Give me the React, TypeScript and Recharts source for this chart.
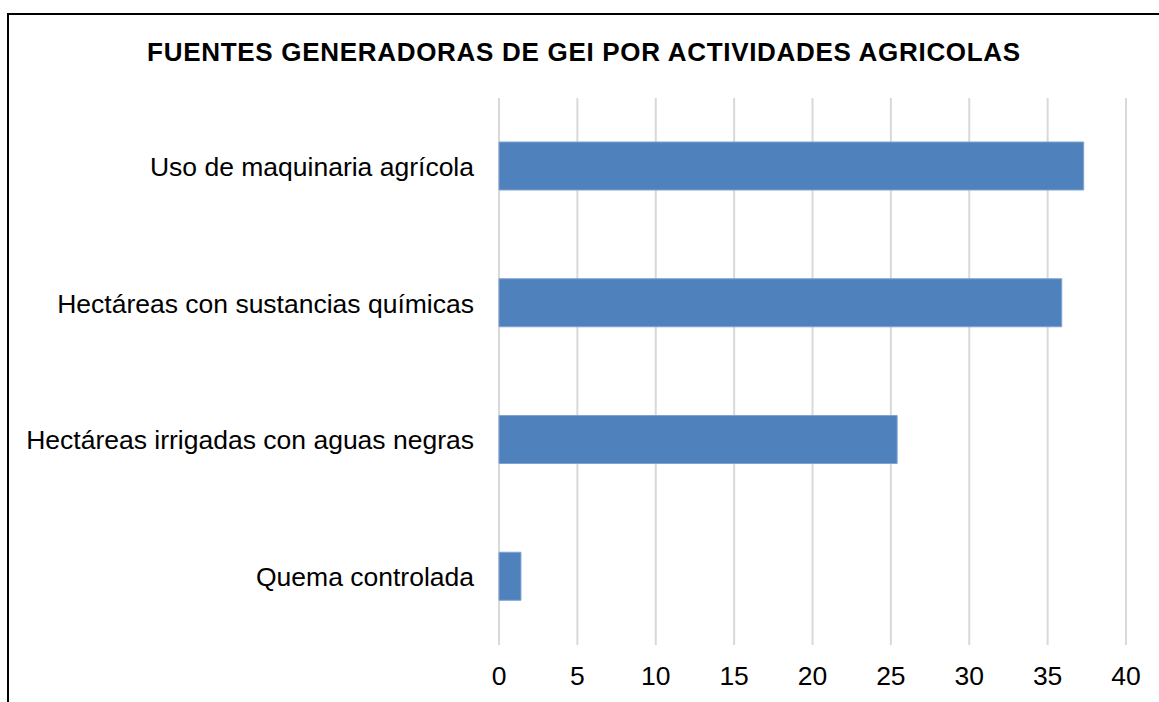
import React from "react";
import { BarChart, Bar, XAxis, YAxis, CartesianGrid } from "recharts";

const categories = [
  "Uso de maquinaria agrícola",
  "Hectáreas con sustancias químicas",
  "Hectáreas irrigadas con aguas negras",
  "Quema controlada",
];
const values = [37.3, 35.9, 25.4, 1.4];
const xTicks = [0, 5, 10, 15, 20, 25, 30, 35, 40];
const title = "FUENTES GENERADORAS DE GEI POR ACTIVIDADES AGRICOLAS";

const data = categories.map((name, i) => ({ name, value: values[i] }));

const FONT = '"Liberation Sans", Arial, sans-serif';

export default function App() {
  return (
    <div style={{ position: "absolute", left: 0, top: 0, width: 1159, height: 702, background: "#fff", fontFamily: FONT }}>
      <BarChart
        width={1159}
        height={702}
        data={data}
        layout="vertical"
        margin={{ top: 98, right: 33, bottom: 0, left: 0 }}
        barSize={48}
      >
        <CartesianGrid horizontal={false} vertical={true} stroke="#d9d9d9" strokeWidth={2} />
        <XAxis
          type="number"
          domain={[0, 40]}
          ticks={xTicks}
          interval={0}
          axisLine={false}
          tickLine={false}
          tickSize={0}
          tickMargin={21}
          height={57}
          tick={{ fill: "#000", fontSize: 26.5, fontFamily: FONT }}
        />
        <YAxis
          type="category"
          dataKey="name"
          width={499}
          axisLine={false}
          tickLine={false}
          tickSize={0}
          tickMargin={25}
          interval={0}
          tick={{ fill: "#000", fontSize: 26.5, fontFamily: FONT }}
        />
        <Bar dataKey="value" fill="#4f81bd" stroke="#7ea3d3" strokeWidth={1} isAnimationActive={false} />
      </BarChart>
      <svg width={1159} height={702} style={{ position: "absolute", left: 0, top: 0, pointerEvents: "none" }}>
        <path d="M8,702 V14 H1159" fill="none" stroke="#000" strokeWidth={2} />
        <text x={584} y={61} textAnchor="middle" fontFamily={FONT} fontSize={26} fontWeight="bold" letterSpacing={0.7} fill="#000">
          {title}
        </text>
      </svg>
    </div>
  );
}
